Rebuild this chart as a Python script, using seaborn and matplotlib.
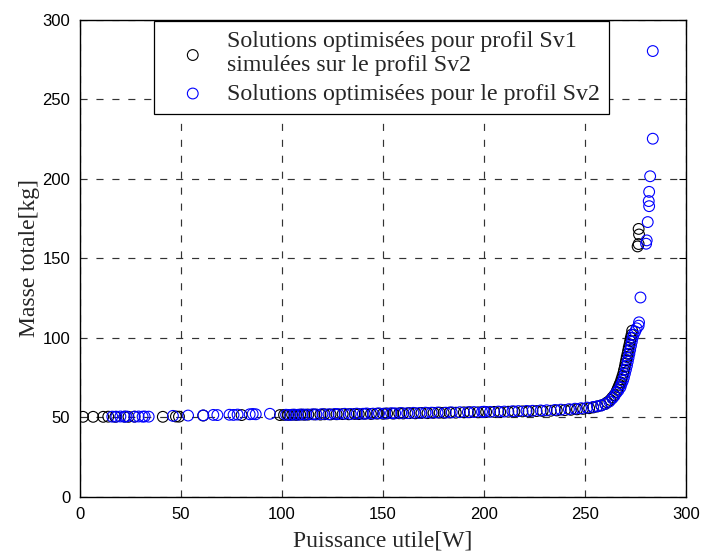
import matplotlib
matplotlib.use("Agg")
import matplotlib.pyplot as plt
import seaborn as sns

# -------------- Data

# Solutions optimisees pour profil Sv1, simulees sur le profil Sv2 (black)
sv1_x = [1.5, 6.5, 11.5, 14, 17.5, 22, 24, 27, 41, 47.5, 49, 61, 80, 99,
         101, 103, 105, 107, 109, 111, 113, 116, 119, 121, 124, 127, 130, 133,
         136, 138, 141, 144, 147, 150, 152, 155, 158, 160, 163, 166, 169, 172,
         175, 178, 180, 183, 186, 190, 193, 197, 201, 205, 208, 212, 215, 219,
         222, 226, 229, 233, 236, 240, 243, 246, 249, 252,
         254, 256, 258, 260, 261, 262.5, 263.5, 264.5, 265.5, 266, 266.5, 267,
         267.5, 268, 268.5, 269, 269.3, 269.7, 270, 270.3, 270.6, 271, 271.3,
         271.6, 272, 272.3, 272.6, 273, 273.3,
         276.5, 276.7, 276.5, 276.0]
sv1_y = [50.4, 50.4, 50.4, 50.5, 50.4, 50.5, 50.4, 50.5, 50.4, 50.6, 50.5, 51.2, 51.5, 51.5,
         51.6, 51.6, 51.7, 51.6, 51.8, 51.7, 51.8, 51.9, 51.8, 52.0, 51.9, 52.0, 52.1, 52.0,
         52.2, 52.1, 52.3, 52.2, 52.4, 52.3, 52.5, 52.4, 52.6, 52.5, 52.7, 52.6, 52.8, 52.7,
         52.9, 53.0, 52.9, 53.1, 53.0, 53.2, 53.3, 53.2, 53.4, 53.5, 53.4, 53.6, 53.7, 53.8,
         53.8, 54.0, 54.1, 54.2, 54.4, 54.6, 54.8, 55.1, 55.4, 55.8,
         56.3, 56.9, 57.6, 58.5, 59.5, 61.0, 62.5, 64.0, 66.0, 67.5, 69.0, 70.5,
         72.0, 74.0, 76.0, 78.0, 80.0, 82.0, 84.0, 86.0, 88.0, 90.0, 92.0,
         94.0, 96.0, 98.0, 100.0, 102.0, 104.5,
         168.5, 165.0, 159.0, 157.5]

# Solutions optimisees pour le profil Sv2 (blue)
sv2_x = [16, 18, 20, 22, 23, 27, 29, 31, 32, 34, 46, 53.5, 61, 66, 68, 74, 76, 78,
         84, 85.5, 87, 94,
         102, 104, 106, 108, 110, 112, 115, 117, 120, 123, 126, 128, 131, 134,
         137, 140, 142, 145, 148, 151, 154, 156, 159, 162, 165, 168, 171, 174,
         177, 181, 184, 188, 192, 195, 199, 200, 203, 207, 210, 214, 217, 221,
         224, 228, 231, 235, 238, 242, 245, 248, 251, 254,
         256, 258, 260, 262, 263.5, 264.5, 265.5, 266.5, 267.5, 268, 268.7,
         269.2, 269.7, 270.2, 270.7, 271.1, 271.5, 271.9, 272.3, 272.7, 273.1,
         273.5, 274, 274.8, 275.5, 276.5, 276.7, 277.4,
         280.2, 280.5, 281, 281.7, 281.5, 281.7, 282.2, 283.5, 283.5]
sv2_y = [50.5, 50.5, 50.6, 50.5, 50.6, 50.5, 50.6, 50.5, 50.6, 50.5, 51.0, 51.2, 51.3, 51.6,
         51.5, 51.7, 51.6, 51.8, 52.0, 52.2, 52.0, 52.3,
         51.7, 51.6, 51.8, 51.7, 51.9, 51.8, 52.0, 51.9, 52.1, 52.0, 52.2, 52.1, 52.3, 52.2,
         52.4, 52.3, 52.5, 52.4, 52.6, 52.5, 52.7, 52.6, 52.8, 52.7, 52.9, 52.8, 53.0, 53.0,
         53.1, 53.0, 53.2, 53.3, 53.3, 53.4, 53.5, 53.6, 53.5, 53.7, 53.7, 53.9, 54.0, 54.1,
         54.2, 54.4, 54.5, 54.7, 54.9, 55.2, 55.5, 55.8, 56.2, 56.6,
         57.0, 57.5, 58.5, 60.0, 62.0, 63.5, 65.5, 67.0, 69.0, 71.0, 73.0,
         75.0, 77.5, 80.0, 82.5, 85.0, 87.5, 90.0, 92.5, 95.0, 97.5,
         100.0, 102.0, 104.0, 106.0, 107.7, 109.8, 125.4,
         159.2, 161.3, 172.8, 182.8, 186.0, 191.8, 201.6, 225.2, 280.3]

label_sv1 = "Solutions optimisées pour profil Sv1\nsimulées sur le profil Sv2"
label_sv2 = "Solutions optimisées pour le profil Sv2"

x_ticks = [0, 50, 100, 150, 200, 250, 300]
y_ticks = [0, 50, 100, 150, 200, 250, 300]

# -------------- Plot

sns.set_style("white")
plt.rcParams['font.family'] = ['Liberation Serif', 'DejaVu Serif']

fig = plt.figure(figsize=(7.04, 5.55), dpi=100)
ax = fig.add_axes([0.1136, 0.1045, 0.861, 0.860])

sns.scatterplot(x=sv1_x, y=sv1_y, ax=ax, marker='o', s=60, color='black',
                facecolor='none', edgecolor='black', linewidth=0.8,
                label=label_sv1, legend=False, zorder=3)
sns.scatterplot(x=sv2_x, y=sv2_y, ax=ax, marker='o', s=60, color='blue',
                facecolor='none', edgecolor='#0000ff', linewidth=0.8,
                label=label_sv2, legend=False, zorder=4)

ax.set_xlim(0, 300)
ax.set_ylim(0, 300)
ax.set_xticks(x_ticks)
ax.set_yticks(y_ticks)
ax.grid(True, color='#333333', linestyle=(0, (6, 7.5)), linewidth=0.85)
ax.set_axisbelow(True)

for sp in ax.spines.values():
    sp.set_visible(True)
    sp.set_color('black')
    sp.set_linewidth(1.0)

ax.tick_params(direction='in', length=5, width=0.8, top=True, right=True,
               labelsize=12, colors='black', pad=7)
for lab in ax.get_xticklabels() + ax.get_yticklabels():
    lab.set_family(['Liberation Sans', 'DejaVu Sans'])

ax.set_xlabel('Puissance utile[W]', fontsize=17, labelpad=6)
ax.set_ylabel('Masse totale[kg]', fontsize=17, labelpad=2)

leg = ax.legend(loc='upper center', bbox_to_anchor=(0.4975, 0.997), borderaxespad=0,
                fontsize=17.2, frameon=True, fancybox=False, edgecolor='black',
                handletextpad=0.19, labelspacing=0.3, borderpad=0.4, handlelength=2.47)
leg.get_frame().set_linewidth(0.9)
leg.get_frame().set_alpha(1)

fig.savefig('out.png', dpi=100)
